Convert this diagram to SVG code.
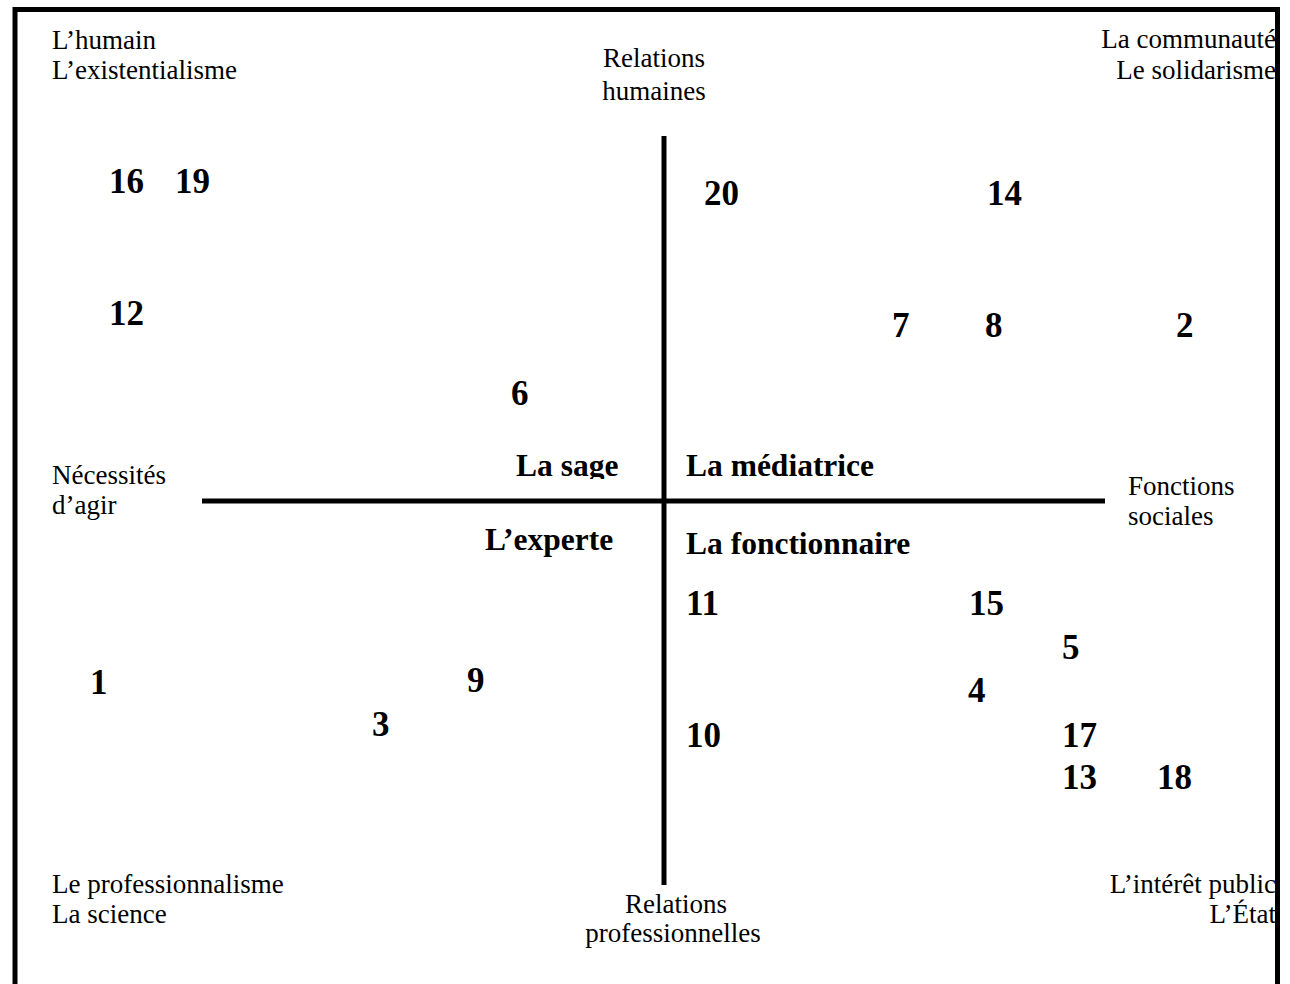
<svg xmlns="http://www.w3.org/2000/svg" width="1290" height="984" viewBox="0 0 1290 984">
<style>
.t{font-family:"Liberation Serif","Times New Roman",serif;font-size:27px;fill:#000}
.n{font-family:"Liberation Serif","Times New Roman",serif;font-size:35px;font-weight:bold;fill:#000}
.q{font-family:"Liberation Serif","Times New Roman",serif;font-size:31.5px;font-weight:bold;fill:#000}
.ax{stroke:#000;stroke-width:5;fill:none}
</style>
<defs>
<clipPath id="clipSage"><rect x="500" y="440" width="140" height="39"/></clipPath>
</defs>
<rect width="1290" height="984" fill="#fff"/>
<g id="corner-tl">
<text class="t" x="52" y="49">L’humain</text>
<text class="t" x="52" y="79">L’existentialisme</text>
</g>
<g id="corner-tr">
<text class="t" x="1276" y="48" text-anchor="end">La communauté</text>
<text class="t" x="1276" y="79" text-anchor="end">Le solidarisme</text>
</g>
<g id="corner-bl">
<text class="t" x="52" y="893">Le professionnalisme</text>
<text class="t" x="52" y="923">La science</text>
</g>
<g id="corner-br">
<text class="t" x="1276" y="893" text-anchor="end">L’intérêt public</text>
<text class="t" x="1276" y="923" text-anchor="end">L’État</text>
</g>
<g id="axis-top-label">
<text class="t" x="654" y="67" text-anchor="middle">Relations</text>
<text class="t" x="654" y="100" text-anchor="middle">humaines</text>
</g>
<g id="axis-bottom-label">
<text class="t" x="676" y="913" text-anchor="middle">Relations</text>
<text class="t" x="673" y="942" text-anchor="middle">professionnelles</text>
</g>
<g id="axis-left-label">
<text class="t" x="52" y="484">Nécessités</text>
<text class="t" x="52" y="514">d’agir</text>
</g>
<g id="axis-right-label">
<text class="t" x="1128" y="495">Fonctions</text>
<text class="t" x="1128" y="525">sociales</text>
</g>
<g id="connectors">
<line class="ax" x1="664" y1="136" x2="664" y2="885"/>
<line class="ax" x1="202" y1="501" x2="1105" y2="501"/>
</g>
<g id="quadrant-labels">
<text class="q" x="516" y="476" clip-path="url(#clipSage)">La sage</text>
<text class="q" x="686" y="476">La médiatrice</text>
<text class="q" x="485" y="550">L’experte</text>
<text class="q" x="686" y="554">La fonctionnaire</text>
</g>
<g id="numbers">
<text class="n" x="109" y="193">16</text>
<text class="n" x="175" y="193">19</text>
<text class="n" x="109" y="325">12</text>
<text class="n" x="704" y="205">20</text>
<text class="n" x="987" y="205">14</text>
<text class="n" x="892" y="337">7</text>
<text class="n" x="985" y="337">8</text>
<text class="n" x="1176" y="337">2</text>
<text class="n" x="511" y="405">6</text>
<text class="n" x="686" y="615">11</text>
<text class="n" x="969" y="615">15</text>
<text class="n" x="1062" y="659">5</text>
<text class="n" x="90" y="694">1</text>
<text class="n" x="467" y="692">9</text>
<text class="n" x="968" y="702">4</text>
<text class="n" x="372" y="736">3</text>
<text class="n" x="686" y="747">10</text>
<text class="n" x="1062" y="747">17</text>
<text class="n" x="1062" y="789">13</text>
<text class="n" x="1157" y="789">18</text>
</g>
<g id="frame">
<path class="ax" d="M15 1000 V9.5 H1277.5 V1000"/>
</g>
</svg>
